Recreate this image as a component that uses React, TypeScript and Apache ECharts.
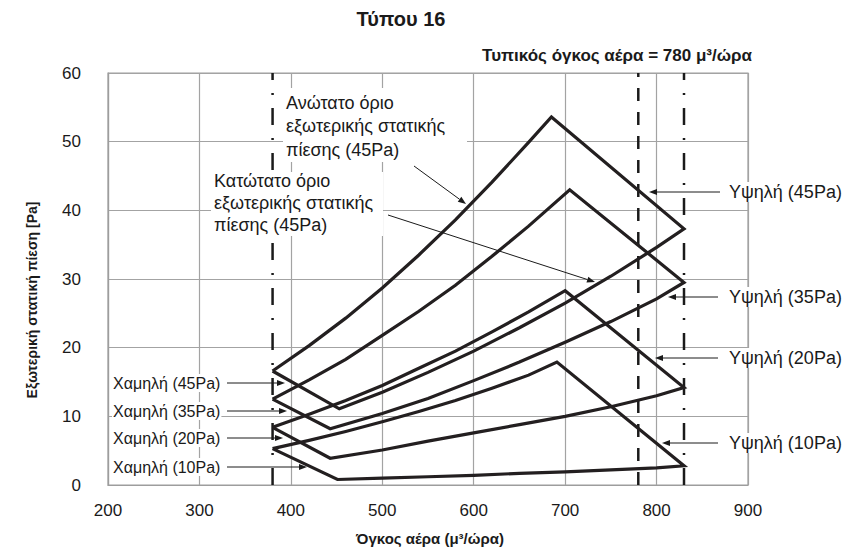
import React, { useEffect, useRef } from "react";
import * as echarts from "echarts";

// ---------- data ----------
const xTicks = [200, 300, 400, 500, 600, 700, 800, 900];
const yTicks = [0, 10, 20, 30, 40, 50, 60];

// 45Pa envelope
const x45Upper = [380, 420, 460, 500, 540, 580, 620, 660, 685];
const y45Upper = [16.6, 20.3, 24.3, 28.7, 33.5, 38.6, 44.1, 49.9, 53.6];
const x45Lower = [453, 500, 550, 600, 650, 700, 750, 800, 830];
const y45Lower = [11.1, 13.5, 16.4, 19.5, 22.9, 26.5, 30.4, 34.6, 37.3];

// 35Pa envelope
const x35Upper = [380, 420, 460, 500, 540, 580, 620, 660, 705];
const y35Upper = [12.5, 15.3, 18.3, 21.8, 25.3, 29.1, 33.3, 37.7, 43.0];
const x35Lower = [443, 500, 550, 600, 650, 700, 750, 800, 830];
const y35Lower = [8.2, 10.4, 12.6, 15.2, 17.9, 20.8, 23.8, 27.1, 29.5];

// 20Pa envelope
const x20Upper = [380, 420, 460, 500, 540, 580, 620, 660, 700];
const y20Upper = [8.4, 10.3, 12.3, 14.5, 17.0, 19.5, 22.3, 25.2, 28.3];
const x20Lower = [443, 500, 550, 600, 650, 700, 750, 800, 830];
const y20Lower = [3.9, 5.1, 6.4, 7.6, 8.8, 10.0, 11.4, 13.0, 14.2];

// 10Pa envelope
const x10Upper = [380, 420, 460, 500, 540, 580, 620, 660, 691];
const y10Upper = [5.3, 6.5, 7.8, 9.2, 10.7, 12.3, 14.1, 16.0, 17.9];
const x10Lower = [451, 500, 550, 600, 650, 700, 750, 800, 830];
const y10Lower = [0.8, 1.0, 1.2, 1.4, 1.7, 1.9, 2.2, 2.5, 2.8];

// vertical reference lines (airflow limits / nominal)
const refLinesX = [380, 780, 830];
const refLinesKind = ["dashdot", "dash", "dashdot"];

const FONT = '"Liberation Sans", Arial, Helvetica, sans-serif';
const INK = "#1a1a1a";

function envelope(xu: number[], yu: number[], xl: number[], yl: number[]) {
  const pts: number[][] = [];
  for (let i = 0; i < xu.length; i++) pts.push([xu[i], yu[i]]);
  for (let i = xl.length - 1; i >= 0; i--) pts.push([xl[i], yl[i]]);
  pts.push([xu[0], yu[0]]);
  return pts;
}

function txt(x: number, y: number, text: string, o: any = {}) {
  return {
    type: "text",
    x,
    y,
    z: 100,
    rotation: o.rotation || 0,
    style: {
      text,
      fill: INK,
      fontFamily: FONT,
      fontSize: o.fontSize || 17,
      fontWeight: o.fontWeight || "normal",
      align: o.align || "left",
      textAlign: o.align || "left",
      verticalAlign: o.verticalAlign || "middle",
      textVerticalAlign: o.verticalAlign || "middle",
      lineHeight: o.lineHeight,
      backgroundColor: o.bg,
      padding: o.padding,
    },
  };
}

function arrow(x1: number, y1: number, x2: number, y2: number) {
  const dx = x2 - x1;
  const dy = y2 - y1;
  const len = Math.sqrt(dx * dx + dy * dy);
  const ux = dx / len;
  const uy = dy / len;
  const hl = 8;
  const hw = 3;
  const bx = x2 - ux * hl;
  const by = y2 - uy * hl;
  return [
    {
      type: "line",
      z: 101,
      shape: { x1, y1, x2: bx, y2: by },
      style: { stroke: INK, lineWidth: 1 },
    },
    {
      type: "polygon",
      z: 101,
      shape: {
        points: [
          [x2, y2],
          [bx - uy * hw, by + ux * hw],
          [bx + uy * hw, by - ux * hw],
        ],
      },
      style: { fill: INK },
    },
  ];
}

export default function App() {
  const ref = useRef<HTMLDivElement>(null);

  useEffect(() => {
    const chart = echarts.init(ref.current!, null, { renderer: "svg" });

    const shapes = [
      { name: "45Pa", data: envelope(x45Upper, y45Upper, x45Lower, y45Lower) },
      { name: "35Pa", data: envelope(x35Upper, y35Upper, x35Lower, y35Lower) },
      { name: "20Pa", data: envelope(x20Upper, y20Upper, x20Lower, y20Lower) },
      { name: "10Pa", data: envelope(x10Upper, y10Upper, x10Lower, y10Lower) },
    ];

    const yMin = yTicks[0];
    const yMax = yTicks[yTicks.length - 1];

    const refSeries = refLinesX.map((x, i) => ({
      type: "line",
      name: "ref" + i,
      data: [
        [x, yMin],
        [x, yMax],
      ],
      showSymbol: false,
      symbol: "none",
      silent: true,
      z: 3,
      lineStyle: {
        color: INK,
        width: 2.5,
        type: refLinesKind[i] === "dash" ? [13, 11] : [17, 13, 2, 13],
      },
    }));

    const shapeSeries = shapes.map((s) => ({
      type: "line",
      name: s.name,
      data: s.data,
      showSymbol: false,
      symbol: "none",
      smooth: false,
      silent: true,
      z: 4,
      lineStyle: { color: "#231f20", width: 3.2, join: "miter", cap: "butt" },
    }));

    const graphics: any[] = [
      // title & subtitle
      txt(401, 19, "Τύπου 16", { fontSize: 20, fontWeight: "bold", align: "center" }),
      txt(752, 55, "Τυπικός όγκος αέρα = 780 μ³/ώρα", {
        fontSize: 17,
        fontWeight: "bold",
        align: "right",
      }),
      // axis names
      txt(430, 538, "Όγκος αέρα (μ³/ώρα)", { fontSize: 15, fontWeight: "bold", align: "center" }),
      txt(32, 300, "Εξωτερική στατική πίεση [Pa]", {
        fontSize: 14,
        fontWeight: "bold",
        align: "center",
        rotation: Math.PI / 2,
      }),
      // upper-limit annotation box
      {
        type: "rect",
        z: 99,
        shape: { x: 283, y: 88, width: 184, height: 74 },
        style: { fill: "#fff" },
      },
      txt(286, 91, "Ανώτατο όριο\nεξωτερικής στατικής\nπίεσης (45Pa)", {
        fontSize: 18,
        verticalAlign: "top",
        lineHeight: 23.5,
      }),
      // lower-limit annotation box
      {
        type: "rect",
        z: 99,
        shape: { x: 211, y: 172, width: 172, height: 64 },
        style: { fill: "#fff" },
      },
      txt(214, 170, "Κατώτατο όριο\nεξωτερικής στατικής\nπίεσης (45Pa)", {
        fontSize: 18,
        verticalAlign: "top",
        lineHeight: 22,
      }),
      ...arrow(414, 166, 466, 204),
      ...arrow(388, 215, 595, 282),
      // high-speed labels
      txt(728, 192, "Υψηλή (45Pa)", { fontSize: 18, bg: "#fff", padding: [1, 1] }),
      txt(728, 297, "Υψηλή (35Pa)", { fontSize: 18, bg: "#fff", padding: [1, 1] }),
      txt(728, 358, "Υψηλή (20Pa)", { fontSize: 18, bg: "#fff", padding: [1, 1] }),
      txt(728, 443, "Υψηλή (10Pa)", { fontSize: 18, bg: "#fff", padding: [1, 1] }),
      ...arrow(720, 192, 649, 192),
      ...arrow(718, 297, 668, 297),
      ...arrow(718, 358, 655, 358),
      ...arrow(718, 443, 662, 443),
      // low-speed labels
      txt(112, 383, "Χαμηλή (45Pa)", { fontSize: 16, bg: "#fff", padding: [1, 1] }),
      txt(112, 411, "Χαμηλή (35Pa)", { fontSize: 16, bg: "#fff", padding: [1, 1] }),
      txt(112, 438, "Χαμηλή (20Pa)", { fontSize: 16, bg: "#fff", padding: [1, 1] }),
      txt(112, 467, "Χαμηλή (10Pa)", { fontSize: 16, bg: "#fff", padding: [1, 1] }),
      ...arrow(227, 383, 285, 383),
      ...arrow(227, 411, 287, 411),
      ...arrow(227, 438, 283, 438),
      ...arrow(227, 467, 307, 467),
    ];

    chart.setOption({
      animation: false,
      backgroundColor: "#ffffff",
      textStyle: { fontFamily: FONT },
      grid: {
        left: 108,
        right: 114,
        top: 73,
        bottom: 70,
        show: true,
        borderColor: "#9d9d9d",
        borderWidth: 1.2,
        backgroundColor: "transparent",
      },
      xAxis: {
        type: "value",
        min: xTicks[0],
        max: xTicks[xTicks.length - 1],
        interval: xTicks[1] - xTicks[0],
        axisLine: { show: true, lineStyle: { color: "#9d9d9d", width: 1.2 } },
        axisTick: { show: false },
        splitLine: { show: true, lineStyle: { color: "#a3a3a3", width: 1.2 } },
        axisLabel: { fontSize: 17, color: INK, margin: 17, fontFamily: FONT },
      },
      yAxis: {
        type: "value",
        min: yMin,
        max: yMax,
        interval: yTicks[1] - yTicks[0],
        axisLine: { show: true, lineStyle: { color: "#9d9d9d", width: 1.2 } },
        axisTick: { show: false },
        splitLine: { show: true, lineStyle: { color: "#a3a3a3", width: 1.2 } },
        axisLabel: { fontSize: 17, color: INK, margin: 27, fontFamily: FONT },
      },
      series: [...refSeries, ...shapeSeries],
      graphic: { elements: graphics },
    } as any);

    return () => chart.dispose();
  }, []);

  return (
    <div
      ref={ref}
      style={{ position: "absolute", left: 0, top: 0, width: 862, height: 555 }}
    />
  );
}
